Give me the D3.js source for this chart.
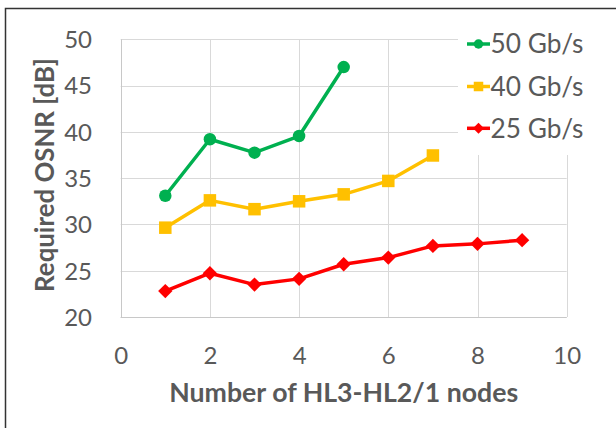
<!DOCTYPE html>
<html><head><meta charset="utf-8">
<script src="https://cdn.jsdelivr.net/npm/d3@7"></script>
<style>html,body{margin:0;padding:0;background:#fff;}svg{display:block;}</style>
</head><body>
<script>
const xNodes = [1,2,3,4,5,6,7,8,9];
const s50 = [33.1, 39.2, 37.75, 39.55, 47.0];
const s40 = [29.65, 32.6, 31.65, 32.5, 33.25, 34.7, 37.45];
const s25 = [22.8, 24.73, 23.5, 24.12, 25.7, 26.42, 27.68, 27.9, 28.3];
const seriesNames = ["50 Gb/s", "40 Gb/s", "25 Gb/s"];
const seriesColors = ["#00B050", "#FFC000", "#FF0000"];
const seriesShapes = ["circle", "square", "diamond"];
const xTicks = [0,2,4,6,8,10];
const yTicks = [20,25,30,35,40,45,50];

const W = 616, H = 428;
const svg = d3.select("body").append("svg").attr("width", W).attr("height", H);
const font = "Lato, 'Open Sans', sans-serif";
const textCol = "#595959";

svg.append("rect").attr("x", 5.5).attr("y", 8.5).attr("width", 640).attr("height", 440)
  .attr("fill", "#fff").attr("stroke", "#333").attr("stroke-width", 1.5);

const x = d3.scaleLinear().domain([0,10]).range([120.7, 566.7]);
const y = d3.scaleLinear().domain([20,50]).range([317, 39.3]);

const g = svg.append("g");
g.selectAll(".hg").data(yTicks).join("line")
  .attr("x1", x(0)).attr("x2", x(10)).attr("y1", d => Math.round(y(d))+0.5).attr("y2", d => Math.round(y(d))+0.5)
  .attr("stroke", "#D9D9D9").attr("stroke-width", 1);
g.selectAll(".vg").data(xTicks).join("line")
  .attr("y1", y(20)).attr("y2", y(50)).attr("x1", d => Math.round(x(d))+0.5).attr("x2", d => Math.round(x(d))+0.5)
  .attr("stroke", "#D9D9D9").attr("stroke-width", 1);
g.append("line").attr("x1", x(0)).attr("x2", x(10)).attr("y1", Math.round(y(20))+0.5).attr("y2", Math.round(y(20))+0.5).attr("stroke", "#C8C8C8");
g.append("line").attr("x1", Math.round(x(0))+0.5).attr("x2", Math.round(x(0))+0.5).attr("y1", y(20)).attr("y2", y(50)).attr("stroke", "#C8C8C8");

const yAxis = d3.axisLeft(y).tickValues(yTicks).tickSize(0).tickPadding(0);
const ya = svg.append("g").attr("transform", `translate(92,0)`).call(yAxis);
ya.select(".domain").remove();
ya.selectAll("text").attr("font-family", font).attr("font-size", 24).attr("fill", textCol).attr("dy", "0.35em");

const xAxis = d3.axisBottom(x).tickValues(xTicks).tickSize(0).tickPadding(0);
const xa = svg.append("g").attr("transform", `translate(0,347)`).call(xAxis);
xa.select(".domain").remove();
xa.selectAll("text").attr("font-family", font).attr("font-size", 24).attr("fill", textCol).attr("dy", "0.71em");

function fit(sel, target) {
  const n = sel.node();
  const fs = +sel.attr("font-size");
  const w = n.getComputedTextLength();
  sel.attr("font-size", fs * target / w);
}

const xt = svg.append("text").attr("x", 343.7).attr("y", 402).attr("text-anchor", "middle")
  .attr("font-family", font).attr("font-weight", "bold").attr("font-size", 22).attr("fill", textCol)
  .text("Number of HL3-HL2/1 nodes");
fit(xt, 349);

const yt = svg.append("text").attr("transform", "translate(54,175) rotate(-90)").attr("text-anchor", "middle")
  .attr("font-family", font).attr("font-weight", "bold").attr("font-size", 22).attr("fill", textCol)
  .text("Required OSNR [dB]");
fit(yt, 234);

const data = [s50, s40, s25];
const line = d3.line().x((d,i) => x(xNodes[i])).y(d => y(d));

function drawMarker(sel, shape, color, size) {
  if (shape === "circle") {
    sel.append("circle").attr("r", size/2).attr("fill", color);
  } else if (shape === "square") {
    sel.append("rect").attr("x", -size/2).attr("y", -size/2).attr("width", size).attr("height", size).attr("fill", color);
  } else {
    const s = size/2 * 1.15;
    sel.append("path").attr("d", `M0,${-s}L${s},0L0,${s}L${-s},0Z`).attr("fill", color);
  }
}

data.forEach((vals, si) => {
  svg.append("path").datum(vals).attr("d", line).attr("fill", "none")
    .attr("stroke", seriesColors[si]).attr("stroke-width", 3.5).attr("stroke-linejoin", "round");
  vals.forEach((v, i) => {
    const m = svg.append("g").attr("transform", `translate(${x(xNodes[i])},${y(v)})`);
    drawMarker(m, seriesShapes[si], seriesColors[si], 12.5);
  });
});

svg.append("rect").attr("x", 458).attr("y", 22).attr("width", 150).attr("height", 133).attr("fill", "#fff");
const legY = [44, 86.5, 128.3];
seriesNames.forEach((name, si) => {
  const lg = svg.append("g").attr("transform", `translate(0,${legY[si]})`);
  lg.append("line").attr("x1", 467).attr("x2", 490).attr("y1", 0).attr("y2", 0)
    .attr("stroke", seriesColors[si]).attr("stroke-width", 3.5);
  const m = lg.append("g").attr("transform", "translate(478.5,0)");
  drawMarker(m, seriesShapes[si], seriesColors[si], 9.5);
  const t = lg.append("text").attr("x", 490.5).attr("y", 0).attr("dy", "0.35em")
    .attr("font-family", font).attr("font-size", 25).attr("fill", textCol).text(name);
  fit(t, 93);
});
</script>
</body></html>
